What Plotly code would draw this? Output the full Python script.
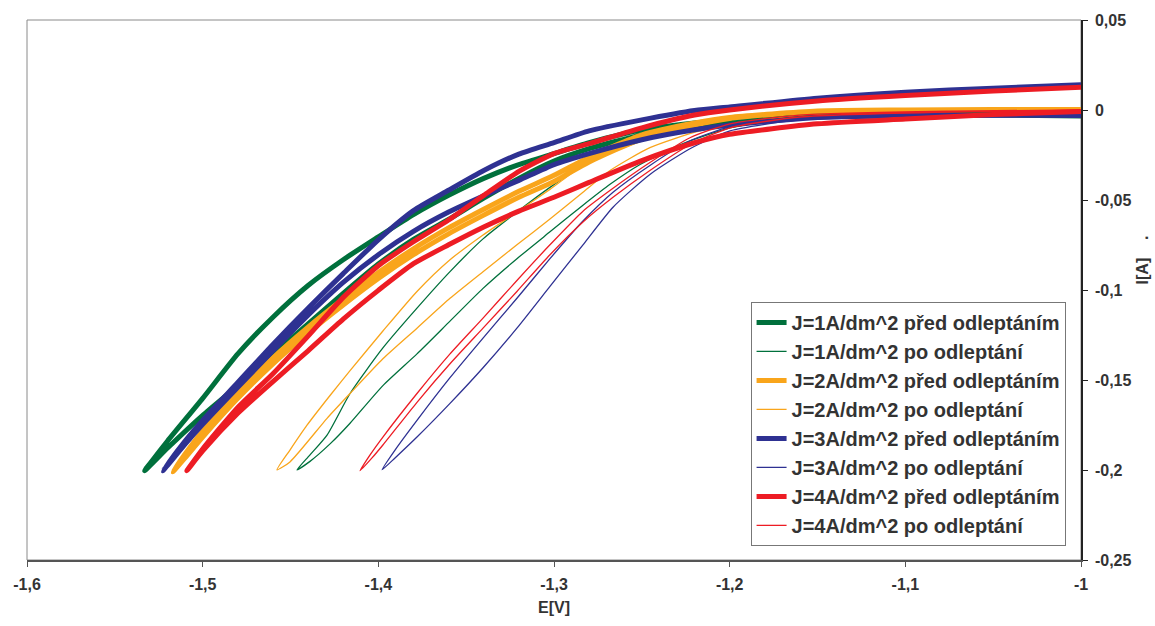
import plotly.graph_objects as go

# Cyclic polarisation curves, E [V] vs I [A]; each loop = forward branch (E -> tip) + return branch.
# J = 1 A/dm^2, before etching
E_j1_pred_a = [-1.533, -1.52, -1.50, -1.48, -1.46, -1.44, -1.42, -1.40, -1.38, -1.36, -1.34, -1.32, -1.30, -1.28, -1.25, -1.22, -1.20, -1.15, -1.10, -1.05, -1.00]
I_j1_pred_a = [-0.2004, -0.1839, -0.1602, -0.1355, -0.1151, -0.0975, -0.0832, -0.0705, -0.0581, -0.0474, -0.0380, -0.0303, -0.0242, -0.0182, -0.0110, -0.0072, -0.0055, -0.0033, -0.0028, -0.0028, -0.0033]
E_j1_pred_b = [-1.533, -1.52, -1.50, -1.48, -1.46, -1.44, -1.42, -1.40, -1.38, -1.36, -1.34, -1.32, -1.30, -1.28, -1.25, -1.22, -1.20, -1.15, -1.10, -1.05, -1.00]
I_j1_pred_b = [-0.2004, -0.1878, -0.1696, -0.1531, -0.1357, -0.1189, -0.1019, -0.0856, -0.0719, -0.0608, -0.0490, -0.0380, -0.0284, -0.0215, -0.0138, -0.0088, -0.0061, -0.0028, -0.0011, -0.0006, -0.0003]

# J = 1 A/dm^2, after etching
E_j1_po_a = [-1.4463, -1.4389, -1.4292, -1.4161, -1.3974, -1.3780, -1.3592, -1.3404, -1.3211, -1.3023, -1.2835, -1.2624, -1.2397, -1.2055, -1.1600, -1.0746, -1.0]
I_j1_po_a = [-0.1999, -0.1916, -0.1806, -0.1575, -0.1322, -0.1101, -0.0898, -0.0716, -0.0567, -0.0430, -0.0308, -0.0215, -0.0143, -0.0072, -0.0028, -0.0017, -0.0017]
E_j1_po_b = [-1.4463, -1.4389, -1.4275, -1.4161, -1.3974, -1.3780, -1.3592, -1.3404, -1.3211, -1.3023, -1.2835, -1.2681, -1.2510, -1.2283, -1.1998, -1.1600, -1.0746, -1.0]
I_j1_po_b = [-0.1999, -0.1952, -0.1855, -0.1740, -0.1531, -0.1355, -0.1173, -0.0991, -0.0826, -0.0677, -0.0529, -0.0413, -0.0303, -0.0193, -0.0099, -0.0044, -0.0022, -0.0017]

# J = 2 A/dm^2, before etching
E_j2_pred_a = [-1.517, -1.51, -1.50, -1.48, -1.46, -1.44, -1.42, -1.40, -1.38, -1.36, -1.34, -1.32, -1.30, -1.28, -1.25, -1.22, -1.20, -1.15, -1.10, -1.05, -1.00]
I_j2_pred_a = [-0.2010, -0.1911, -0.1784, -0.1569, -0.1377, -0.1206, -0.1050, -0.0903, -0.0771, -0.0655, -0.0551, -0.0452, -0.0363, -0.0262, -0.0138, -0.0072, -0.0041, -0.0006, 0.0, 0.0003, 0.0003]
E_j2_pred_b = [-1.517, -1.51, -1.50, -1.48, -1.46, -1.44, -1.42, -1.40, -1.38, -1.36, -1.34, -1.32, -1.30, -1.28, -1.25, -1.22, -1.20, -1.15, -1.10, -1.05, -1.00]
I_j2_pred_b = [-0.2010, -0.1933, -0.1817, -0.1602, -0.1410, -0.1239, -0.1083, -0.0936, -0.0804, -0.0688, -0.0584, -0.0485, -0.0397, -0.0289, -0.0160, -0.0083, -0.0047, -0.0006, 0.0, 0.0003, 0.0003]

# J = 2 A/dm^2, after etching
E_j2_po_a = [-1.4577, -1.4503, -1.4406, -1.4275, -1.4161, -1.3974, -1.3780, -1.3592, -1.3404, -1.3211, -1.3023, -1.2835, -1.2624, -1.2397, -1.2055, -1.1600, -1.0746, -1.0]
I_j2_po_a = [-0.1999, -0.1889, -0.1751, -0.1586, -0.1448, -0.1228, -0.1008, -0.0832, -0.0694, -0.0567, -0.0441, -0.0308, -0.0209, -0.0138, -0.0061, -0.0017, 0.0, 0.0]
E_j2_po_b = [-1.4577, -1.4503, -1.4292, -1.4161, -1.3974, -1.3780, -1.3592, -1.3404, -1.3211, -1.3023, -1.2835, -1.2681, -1.2454, -1.2169, -1.1600, -1.0746, -1.0]
I_j2_po_b = [-0.1999, -0.1955, -0.1713, -0.1575, -0.1382, -0.1212, -0.1046, -0.0898, -0.0749, -0.0606, -0.0457, -0.0336, -0.0209, -0.0116, -0.0028, -0.0006, 0.0]

# J = 3 A/dm^2, before etching
E_j3_pred_a = [-1.5226, -1.51, -1.50, -1.48, -1.46, -1.44, -1.42, -1.40, -1.38, -1.36, -1.34, -1.32, -1.30, -1.28, -1.25, -1.22, -1.20, -1.15, -1.10, -1.05, -1.00]
I_j3_pred_a = [-0.2004, -0.1839, -0.1724, -0.1514, -0.1302, -0.1101, -0.0909, -0.0721, -0.0559, -0.0446, -0.0336, -0.0245, -0.0181, -0.0116, -0.0055, -0.0003, 0.0017, 0.0066, 0.0099, 0.0121, 0.0140]
E_j3_pred_b = [-1.5226, -1.51, -1.50, -1.48, -1.46, -1.44, -1.42, -1.40, -1.38, -1.36, -1.34, -1.32, -1.30, -1.28, -1.25, -1.22, -1.20, -1.15, -1.10, -1.05, -1.00]
I_j3_pred_b = [-0.2004, -0.1856, -0.1746, -0.1540, -0.1338, -0.1140, -0.0958, -0.0804, -0.0674, -0.0567, -0.0476, -0.0391, -0.0303, -0.0242, -0.0165, -0.0110, -0.0083, -0.0041, -0.0030, -0.0029, -0.0030]

# J = 3 A/dm^2, after etching
E_j3_po_a = [-1.3979, -1.3905, -1.3780, -1.3592, -1.3404, -1.3211, -1.3023, -1.2835, -1.2664, -1.2454, -1.2226, -1.1998, -1.1600, -1.0746, -1.0]
I_j3_po_a = [-0.1999, -0.1889, -0.1724, -0.1487, -0.1267, -0.1046, -0.0826, -0.0617, -0.0457, -0.0308, -0.0171, -0.0094, -0.0050, -0.0039, -0.0033]
E_j3_po_b = [-1.3979, -1.3905, -1.3780, -1.3592, -1.3404, -1.3211, -1.3023, -1.2835, -1.2664, -1.2454, -1.2226, -1.1998, -1.1600, -1.0746, -1.0]
I_j3_po_b = [-0.1999, -0.1933, -0.1817, -0.1630, -0.1432, -0.1212, -0.0980, -0.0749, -0.0540, -0.0358, -0.0215, -0.0116, -0.0055, -0.0039, -0.0033]

# J = 4 A/dm^2, before etching
E_j4_pred_a = [-1.509, -1.50, -1.48, -1.46, -1.44, -1.42, -1.40, -1.38, -1.36, -1.34, -1.32, -1.30, -1.28, -1.25, -1.22, -1.20, -1.15, -1.10, -1.05, -1.00]
I_j4_pred_a = [-0.2004, -0.1883, -0.1652, -0.1465, -0.1256, -0.1041, -0.0865, -0.0732, -0.0611, -0.0474, -0.0341, -0.0242, -0.0187, -0.0099, -0.0028, 0.0, 0.0050, 0.0080, 0.0105, 0.0127]
E_j4_pred_b = [-1.509, -1.50, -1.48, -1.46, -1.44, -1.42, -1.40, -1.38, -1.36, -1.34, -1.32, -1.30, -1.28, -1.25, -1.22, -1.20, -1.15, -1.10, -1.05, -1.00]
I_j4_pred_b = [-0.2004, -0.1894, -0.1685, -0.1509, -0.1338, -0.1162, -0.1002, -0.0854, -0.0749, -0.0650, -0.0562, -0.0485, -0.0402, -0.0281, -0.0182, -0.0135, -0.0077, -0.0050, -0.0025, -0.0008]

# J = 4 A/dm^2, after etching
E_j4_po_a = [-1.4104, -1.4047, -1.3974, -1.3780, -1.3592, -1.3404, -1.3211, -1.3023, -1.2835, -1.2664, -1.2454, -1.2226, -1.1998, -1.1600, -1.0746, -1.0]
I_j4_po_a = [-0.2004, -0.1916, -0.1817, -0.1575, -0.1355, -0.1156, -0.0947, -0.0749, -0.0562, -0.0435, -0.0292, -0.0154, -0.0077, -0.0028, -0.0006, 0.0]
E_j4_po_b = [-1.4104, -1.4036, -1.3974, -1.3780, -1.3592, -1.3404, -1.3211, -1.3023, -1.2835, -1.2664, -1.2454, -1.2226, -1.1998, -1.1600, -1.0746, -1.0]
I_j4_po_b = [-0.2004, -0.1933, -0.1861, -0.1624, -0.1410, -0.1212, -0.1008, -0.0804, -0.0622, -0.0485, -0.0336, -0.0193, -0.0099, -0.0039, -0.0011, -0.0006]

series_names = [
    "J=1A/dm^2 před odleptáním", "J=1A/dm^2 po odleptání",
    "J=2A/dm^2 před odleptáním", "J=2A/dm^2 po odleptání",
    "J=3A/dm^2 před odleptáním", "J=3A/dm^2 po odleptání",
    "J=4A/dm^2 před odleptáním", "J=4A/dm^2 po odleptání",
]
series_colors = ["#00703c", "#00703c", "#f9a51b", "#f9a51b", "#2e3192", "#2e3192", "#ed1c24", "#ed1c24"]
series_widths = [5, 1.3, 5, 1.3, 5, 1.3, 5, 1.3]

branches = [
    (E_j1_pred_a, I_j1_pred_a, E_j1_pred_b, I_j1_pred_b),
    (E_j1_po_a, I_j1_po_a, E_j1_po_b, I_j1_po_b),
    (E_j2_pred_a, I_j2_pred_a, E_j2_pred_b, I_j2_pred_b),
    (E_j2_po_a, I_j2_po_a, E_j2_po_b, I_j2_po_b),
    (E_j3_pred_a, I_j3_pred_a, E_j3_pred_b, I_j3_pred_b),
    (E_j3_po_a, I_j3_po_a, E_j3_po_b, I_j3_po_b),
    (E_j4_pred_a, I_j4_pred_a, E_j4_pred_b, I_j4_pred_b),
    (E_j4_po_a, I_j4_po_a, E_j4_po_b, I_j4_po_b),
]

x_tickvals = [-1.6, -1.5, -1.4, -1.3, -1.2, -1.1, -1.0]
x_ticktext = ["-1,6", "-1,5", "-1,4", "-1,3", "-1,2", "-1,1", "-1"]
y_tickvals = [0.05, 0.0, -0.05, -0.1, -0.15, -0.2, -0.25]
y_ticktext = ["0,05", "0", "-0,05", "-0,1", "-0,15", "-0,2", "-0,25"]

FONT = "Liberation Sans, Arial, sans-serif"
TXT = "#333333"

fig = go.Figure()
for k, (name, color, width, (ea, ia, eb, ib)) in enumerate(zip(series_names, series_colors, series_widths, branches)):
    # sweep: from -1 V down to the tip along branch a, then back along branch b
    x = list(reversed(ea)) + eb[1:]
    y = list(reversed(ia)) + ib[1:]
    fig.add_trace(go.Scatter(
        x=x, y=y, mode="lines", name=name, legendgroup=f"g{k}",
        line=dict(color=color, width=width, shape="spline", smoothing=0.6),
    ))

fig.update_layout(
    width=1155, height=626,
    margin=dict(l=27, r=74, t=16, b=66),
    paper_bgcolor="white", plot_bgcolor="white",
    font=dict(family=FONT, color=TXT, size=16, weight="bold"),
    showlegend=True,
    legend=dict(
        x=0.6865, y=0.478, xanchor="left", yanchor="top",
        bgcolor="white", bordercolor="#777777", borderwidth=1,
        font=dict(family=FONT, size=20, color=TXT, weight="bold"),
        itemwidth=30, tracegroupgap=0,
    ),
    xaxis=dict(
        range=[-1.6, -1.0], tickvals=x_tickvals, ticktext=x_ticktext,
        showgrid=False, zeroline=False,
        showline=True, linecolor="#555555", linewidth=1.5,
        ticks="outside", ticklen=5, tickcolor="#555555", ticklabelstandoff=4,
        tickfont=dict(family=FONT, size=16, color=TXT, weight="bold"),
        title=dict(text="E[V]", font=dict(family=FONT, size=16, color=TXT, weight="bold"), standoff=10),
    ),
    yaxis=dict(
        range=[-0.25, 0.05], tickvals=y_tickvals, ticktext=y_ticktext,
        side="right",
        showgrid=False, zeroline=False,
        showline=True, linecolor="#222222", linewidth=1.5,
        ticks="outside", ticklen=5, tickcolor="#222222", ticklabelstandoff=4,
        tickfont=dict(family=FONT, size=16, color=TXT, weight="bold"),
    ),
    shapes=[dict(type="rect", xref="paper", yref="paper", x0=0, y0=0, x1=1, y1=1,
                 line=dict(color="#8a8a8a", width=1), layer="below")],
    annotations=[dict(
        text="I[A]    .", textangle=-90, xref="paper", yref="paper",
        x=1.058, y=0.555, showarrow=False, xanchor="center", yanchor="middle",
        font=dict(family=FONT, size=16, color=TXT, weight="bold"),
    )],
)

fig.write_html("out.html")
